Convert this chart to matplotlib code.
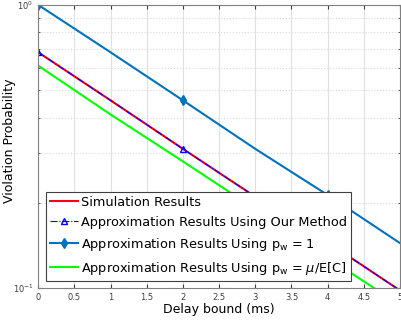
import matplotlib
matplotlib.use("Agg")
import matplotlib.pyplot as plt
from matplotlib.ticker import LogLocator, NullFormatter

# delay bound (ms)
delay = [0, 1, 2, 3, 4, 5]

# violation probability
sim = [0.68, 0.46, 0.31, 0.21, 0.145, 0.098]
ours = [0.68, 0.46, 0.31, 0.21, 0.145, 0.098]
pw_one = [1.0, 0.68, 0.46, 0.31, 0.213, 0.144]
pw_mu = [0.61, 0.41, 0.28, 0.19, 0.128, 0.087]

xticks = [0, 0.5, 1, 1.5, 2, 2.5, 3, 3.5, 4, 4.5, 5]

fig = plt.figure(figsize=(4.02, 3.25), dpi=100)
ax = fig.add_axes([0.095, 0.114, 0.9, 0.871])

ax.plot(delay, sim, color="red", lw=1.5, label="Simulation Results")
ax.plot(delay, ours, color="blue", lw=0.8, ls="-.", marker="^", markevery=2,
        ms=4, mfc="none", label="Approximation Results Using Our Method")
ax.plot(delay, pw_one, color=(0, 0.447, 0.741), lw=1.5, marker="d", markevery=2,
        ms=5, label="Approximation Results Using p$_\\mathregular{w}$ = 1")
ax.plot(delay, pw_mu, color=(0, 1, 0), lw=1.5,
        label="Approximation Results Using p$_\\mathregular{w}$ = $\\mu$/E[C]")

ax.set_yscale("log")
ax.set_xlim(0, 5)
ax.set_ylim(0.1, 1)
ax.set_xticks(xticks)
ax.set_xticklabels([f"{t:g}" for t in xticks])
ax.yaxis.set_minor_locator(LogLocator(base=10, subs=range(2, 10)))
ax.yaxis.set_minor_formatter(NullFormatter())

ax.grid(True, axis="x", which="major", color="#e0e0e0", lw=0.8)
ax.grid(True, axis="y", which="both", color="#d8d8d8", ls=":", lw=0.8)
ax.set_axisbelow(True)

for s in ax.spines.values():
    s.set_color("#808080")
ax.tick_params(which="both", direction="in", labelsize=6, colors="#404040",
               top=True, right=True, length=3)
ax.tick_params(which="minor", length=1.5)

ax.set_xlabel("Delay bound (ms)", fontsize=9, labelpad=1)
ax.set_ylabel("Violation Probability", fontsize=9)
ax.yaxis.set_label_coords(-0.061, 0.52)

leg = ax.legend(loc="lower left", bbox_to_anchor=(0.022, 0.025), fontsize=9.3,
                fancybox=False, edgecolor="#404040", framealpha=1,
                handlelength=2.2, handletextpad=0.2, borderpad=0.3,
                labelspacing=0.55, borderaxespad=0)
leg.get_frame().set_linewidth(0.8)
leg.set_zorder(5)

fig.savefig("out.png", dpi=100)
